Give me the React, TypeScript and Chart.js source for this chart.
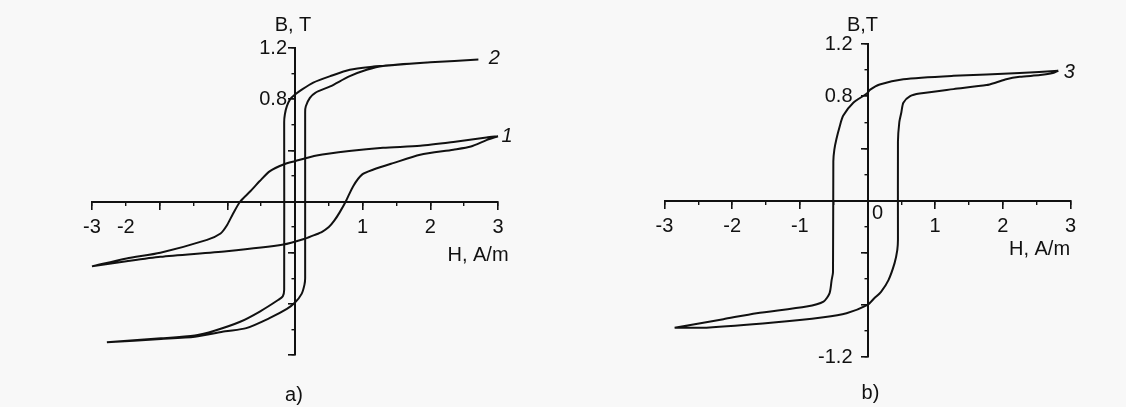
import React, { useEffect, useRef } from "react";
import { Chart, registerables } from "chart.js";

Chart.register(...registerables);

// ---------- data (H in A/m, B in T) ----------
const hMin = -3;
const hMax = 3;
const bMin = -1.2;
const bMax = 1.2;
const hMajorStep = 1;
const hMinorStep = 0.5;
const bMajorStep = 0.4;
const bMinorStep = 0.2;

// Panel a), loop 1 (wide, shallow)
const loop1Descending: [number, number][] = [
  [3.0, 0.51], [2.83, 0.5], [2.34, 0.465], [1.85, 0.435], [1.3, 0.42], [0.8, 0.395],
  [0.32, 0.36], [0.0, 0.315], [-0.17, 0.289], [-0.37, 0.237], [-0.52, 0.16], [-0.66, 0.08],
  [-0.81, 0.0], [-0.92, -0.1], [-1.01, -0.19], [-1.1, -0.25], [-1.3, -0.3], [-1.99, -0.4],
  [-2.49, -0.445], [-3.0, -0.507],
];
const loop1Ascending: [number, number][] = [
  [-3.0, -0.507], [-2.49, -0.467], [-1.99, -0.432], [-1.01, -0.388], [-0.17, -0.336],
  [0.15, -0.29], [0.3, -0.26], [0.4, -0.237], [0.5, -0.2], [0.58, -0.15], [0.66, -0.085],
  [0.75, 0.0], [0.86, 0.12], [0.99, 0.21], [1.16, 0.25], [1.45, 0.3], [1.85, 0.365],
  [2.34, 0.405], [2.6, 0.43], [2.83, 0.48], [3.0, 0.51],
];

// Panel a), loop 2 (tall, narrow)
const loop2Descending: [number, number][] = [
  [2.71, 1.11], [2.0, 1.088], [1.3, 1.06], [1.16, 1.055], [0.81, 1.03], [0.52, 0.98],
  [0.27, 0.93], [0.1, 0.875], [0.0, 0.836], [-0.07, 0.8], [-0.12, 0.745], [-0.15, 0.68],
  [-0.16, 0.62], [-0.16, -0.69], [-0.18, -0.74], [-0.25, -0.77], [-0.52, -0.86],
  [-0.81, -0.94], [-1.19, -1.01], [-1.48, -1.047], [-1.98, -1.07], [-2.78, -1.1],
];
const loop2Ascending: [number, number][] = [
  [-2.78, -1.1], [-1.98, -1.075], [-1.48, -1.057], [-1.03, -1.015], [-0.72, -0.99],
  [-0.37, -0.91], [-0.12, -0.84], [0.0, -0.79], [0.1, -0.72], [0.14, -0.65], [0.15, -0.6],
  [0.15, 0.7], [0.16, 0.745], [0.22, 0.81], [0.3, 0.85], [0.52, 0.9], [0.81, 0.98],
  [1.06, 1.03], [1.3, 1.06], [2.0, 1.088], [2.71, 1.11],
];

// Panel b), loop 3
const loop3Descending: [number, number][] = [
  [2.82, 0.995], [2.25, 0.977], [1.27, 0.956], [0.53, 0.93], [0.18, 0.89], [0.04, 0.85],
  [-0.01, 0.82], [-0.21, 0.75], [-0.36, 0.65], [-0.41, 0.57], [-0.46, 0.47], [-0.49, 0.39],
  [-0.505, 0.3], [-0.51, -0.55], [-0.53, -0.61], [-0.56, -0.71], [-0.65, -0.775],
  [-0.9, -0.813], [-1.64, -0.864], [-2.13, -0.91], [-2.85, -0.975],
];
const loop3Ascending: [number, number][] = [
  [-2.85, -0.975], [-2.38, -0.975], [-1.39, -0.936], [-0.65, -0.895], [-0.31, -0.864],
  [0.0, -0.8], [0.1, -0.75], [0.2, -0.7], [0.31, -0.61], [0.4, -0.48], [0.44, -0.38],
  [0.45, -0.3], [0.45, 0.45], [0.47, 0.6], [0.5, 0.675], [0.53, 0.75], [0.63, 0.8],
  [0.77, 0.82], [1.27, 0.854], [1.76, 0.885], [1.9, 0.905], [2.05, 0.93], [2.25, 0.948],
  [2.55, 0.962], [2.74, 0.977], [2.82, 0.995],
];

// tick labels
const panelAMajorXLabels = [{ at: -3, text: "-3" }, { at: 1, text: "1" }, { at: 2, text: "2" }, { at: 3, text: "3" }];
const panelAMinorXLabels = [{ at: -2.5, text: "-2" }];
const panelBMajorXLabels = [
  { at: -3, text: "-3" }, { at: -2, text: "-2" }, { at: -1, text: "-1" },
  { at: 1, text: "1" }, { at: 2, text: "2" }, { at: 3, text: "3" },
];
const panelAYLabels = [{ at: 1.2, text: "1.2" }, { at: 0.8, text: "0.8" }];
const panelBYLabels = [{ at: 1.2, text: "1.2" }, { at: 0.8, text: "0.8" }, { at: -1.2, text: "-1.2" }];

// ---------- styling ----------
const INK = "#111111";
const FONT = "'Liberation Sans', Arial, Helvetica, sans-serif";

type Note = {
  text: string;
  ax: number; // data anchor H
  ay: number | "top" | "bottom"; // data anchor B or canvas edge
  dx: number;
  dy: number;
  italic?: boolean;
};

type Panel = {
  left: number;
  loops: [number, number][][];
  majorX: { at: number; text: string }[];
  minorX: { at: number; text: string }[];
  yLabels: { at: number; text: string }[];
  notes: Note[];
  padding: { left: number; right: number; top: number; bottom: number };
  yLabelGap: number;
};

const CANVAS_W = 563;
const CANVAS_H = 407;

const panels: Panel[] = [
  {
    left: 0,
    loops: [
      loop1Descending.concat(loop1Ascending),
      loop2Descending.concat(loop2Ascending),
    ],
    majorX: panelAMajorXLabels,
    minorX: panelAMinorXLabels,
    yLabels: panelAYLabels,
    notes: [
      { text: "B, T", ax: 0, ay: "top", dx: -2, dy: 25 },
      { text: "H, A/m", ax: 3, ay: 0, dx: -20, dy: 54 },
      { text: "2", ax: 2.71, ay: 1.11, dx: 16, dy: -1, italic: true },
      { text: "1", ax: 3.0, ay: 0.51, dx: 9, dy: 0, italic: true },
      { text: "a)", ax: 0, ay: "bottom", dx: -1, dy: -12 },
    ],
    padding: { left: 92, right: 65, top: 48, bottom: 52 },
    yLabelGap: 8,
  },
  {
    left: 563,
    loops: [loop3Descending.concat(loop3Ascending)],
    majorX: panelBMajorXLabels,
    minorX: [],
    yLabels: panelBYLabels,
    notes: [
      { text: "B,T", ax: 0, ay: "top", dx: -5, dy: 25 },
      { text: "H, A/m", ax: 3, ay: 0, dx: -31, dy: 49 },
      { text: "3", ax: 2.82, ay: 0.995, dx: 11, dy: 2, italic: true },
      { text: "0", ax: 0, ay: 0, dx: 10, dy: 13 },
      { text: "b)", ax: 0, ay: "bottom", dx: 3, dy: -14 },
    ],
    padding: { left: 101.5, right: 55.5, top: 44, bottom: 50 },
    yLabelGap: 15,
  },
];

const findLabel = (list: { at: number; text: string }[], v: number) => {
  const hit = list.find((l) => Math.abs(l.at - v) < 1e-6);
  return hit ? hit.text : "";
};

// Draws the B-axis tick labels (left of the centred axis) and the free texts.
const notesPlugin = {
  id: "panelNotes",
  afterDraw(chart: any) {
    const opts = chart.options.plugins.panelNotes;
    const notes: Note[] = opts.notes;
    const yLabels: { at: number; text: string }[] = opts.yLabels;
    const xs = chart.scales.x;
    const ys = chart.scales.y;
    const ctx = chart.ctx;
    ctx.save();
    ctx.fillStyle = INK;
    ctx.textBaseline = "middle";

    ctx.textAlign = "right";
    ctx.font = `20px ${FONT}`;
    const axisX = xs.getPixelForValue(0);
    for (const l of yLabels) {
      ctx.fillText(l.text, axisX - opts.yLabelGap, ys.getPixelForValue(l.at));
    }

    ctx.textAlign = "center";
    for (const n of notes) {
      const px = xs.getPixelForValue(n.ax) + n.dx;
      let py: number;
      if (n.ay === "top") py = n.dy;
      else if (n.ay === "bottom") py = chart.height + n.dy;
      else py = ys.getPixelForValue(n.ay) + n.dy;
      ctx.font = `${n.italic ? "italic " : ""}20px ${FONT}`;
      ctx.fillText(n.text, px, py);
    }
    ctx.restore();
  },
};

function buildConfig(p: Panel): any {
  const tickFont = { family: FONT, size: 20 };
  return {
    type: "scatter",
    data: {
      datasets: p.loops.map((loop) => ({
        data: loop.map(([x, y]) => ({ x, y })),
        showLine: true,
        borderColor: INK,
        borderWidth: 2,
        pointRadius: 0,
        tension: 0.25,
        fill: false,
        clip: false,
      })),
    },
    options: {
      animation: false,
      responsive: false,
      maintainAspectRatio: false,
      events: [],
      layout: { padding: p.padding },
      plugins: {
        legend: { display: false },
        tooltip: { enabled: false },
        title: { display: false },
        panelNotes: { notes: p.notes, yLabels: p.yLabels, yLabelGap: p.yLabelGap },
      },
      scales: {
        x: {
          type: "linear",
          min: hMin,
          max: hMax,
          position: { y: 0 },
          border: { display: true, color: INK, width: 2 },
          grid: { drawOnChartArea: false, drawTicks: true, tickLength: 7, color: INK, lineWidth: 1.6 },
          ticks: {
            stepSize: hMajorStep,
            autoSkip: false,
            maxRotation: 0,
            padding: 7,
            color: INK,
            font: tickFont,
            callback: (v: number) => findLabel(p.majorX, v),
          },
        },
        xMinor: {
          type: "linear",
          axis: "x",
          min: hMin,
          max: hMax,
          position: { y: 0 },
          border: { display: false },
          grid: { drawOnChartArea: false, drawTicks: true, tickLength: 4, color: INK, lineWidth: 1.4 },
          ticks: {
            stepSize: hMinorStep,
            autoSkip: false,
            maxRotation: 0,
            padding: 10,
            color: INK,
            font: tickFont,
            callback: (v: number) => findLabel(p.minorX, v),
          },
        },
        y: {
          type: "linear",
          min: bMin,
          max: bMax,
          position: { x: 0 },
          border: { display: true, color: INK, width: 2 },
          grid: { drawOnChartArea: false, drawTicks: true, tickLength: 6, color: INK, lineWidth: 1.6 },
          ticks: {
            stepSize: bMajorStep,
            autoSkip: false,
            display: false,
          },
        },
        yMinor: {
          type: "linear",
          axis: "y",
          min: bMin,
          max: bMax,
          position: { x: 0 },
          border: { display: false },
          grid: { drawOnChartArea: false, drawTicks: true, tickLength: 3.5, color: INK, lineWidth: 1.4 },
          ticks: {
            stepSize: bMinorStep,
            autoSkip: false,
            display: false,
          },
        },
      },
    },
    plugins: [notesPlugin],
  };
}

function PanelChart({ panel }: { panel: Panel }) {
  const ref = useRef<HTMLCanvasElement | null>(null);
  useEffect(() => {
    if (!ref.current) return;
    const chart = new Chart(ref.current, buildConfig(panel));
    return () => chart.destroy();
  }, [panel]);
  return (
    <canvas
      ref={ref}
      width={CANVAS_W}
      height={CANVAS_H}
      style={{ position: "absolute", left: panel.left, top: 0, width: CANVAS_W, height: CANVAS_H, display: "block" }}
    />
  );
}

export default function App() {
  return (
    <div
      style={{
        position: "absolute",
        left: 0,
        top: 0,
        width: 1126,
        height: 407,
        background: "#f8f8f8",
        overflow: "hidden",
      }}
    >
      {panels.map((p, i) => (
        <PanelChart key={i} panel={p} />
      ))}
    </div>
  );
}
